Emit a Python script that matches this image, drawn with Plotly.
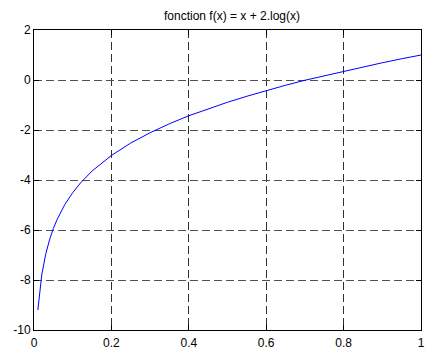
import plotly.graph_objects as go

x_vals = [0.01, 0.02, 0.03, 0.04, 0.05, 0.06, 0.08, 0.10, 0.12, 0.15, 0.20, 0.25, 0.30,
          0.35, 0.40, 0.45, 0.50, 0.55, 0.60, 0.65, 0.70, 0.75, 0.80, 0.85, 0.90, 0.95, 1.00]
y_vals = [-9.20, -7.80, -6.98, -6.40, -5.94, -5.57, -4.97, -4.51, -4.12, -3.64, -3.02, -2.52, -2.11,
          -1.75, -1.43, -1.15, -0.89, -0.65, -0.42, -0.21, -0.01, 0.17, 0.35, 0.52, 0.69, 0.85, 1.00]
x_ticks = [0, 0.2, 0.4, 0.6, 0.8, 1]
x_ticklabels = ["0", "0.2", "0.4", "0.6", "0.8", "1"]
y_ticks = [-10, -8, -6, -4, -2, 0, 2]
y_ticklabels = ["-10", "-8", "-6", "-4", "-2", "0", "2"]
title_text = "fonction f(x) = x + 2.log(x)"

W, H = 427, 352

fig = go.Figure()
fig.add_trace(go.Scatter(x=x_vals, y=y_vals, mode="lines",
                         line=dict(color="#0000ff", width=1)))

axis_common = dict(showline=True, linecolor="black", linewidth=1, mirror="ticks",
                   ticks="inside", ticklen=5, tickcolor="black", tickwidth=1,
                   showgrid=True, griddash="8px,4px", gridwidth=1,
                   zeroline=False, ticklabeloverflow="allow",
                   tickfont=dict(family="Liberation Sans, Arial", size=12, color="black"))

fig.update_layout(
    width=W, height=H,
    margin=dict(l=34, r=2, t=30, b=15),
    paper_bgcolor="white", plot_bgcolor="white",
    showlegend=False,
    title=dict(text=title_text, x=232 / W, xanchor="center",
               y=1 - 16 / H, yanchor="middle",
               font=dict(family="Liberation Sans, Arial", size=12, color="black")),
    xaxis=dict(range=[0, 1], tickvals=x_ticks, ticktext=x_ticklabels,
               ticklabelstandoff=2, gridcolor="#303030", **axis_common),
    yaxis=dict(range=[-10, 2], tickvals=y_ticks, ticktext=y_ticklabels,
               gridcolor="#505050", **axis_common),
)

fig.write_html("out.html",
               config={"displayModeBar": False},
               post_script="document.body.style.margin='0';document.body.style.overflow='hidden';")
